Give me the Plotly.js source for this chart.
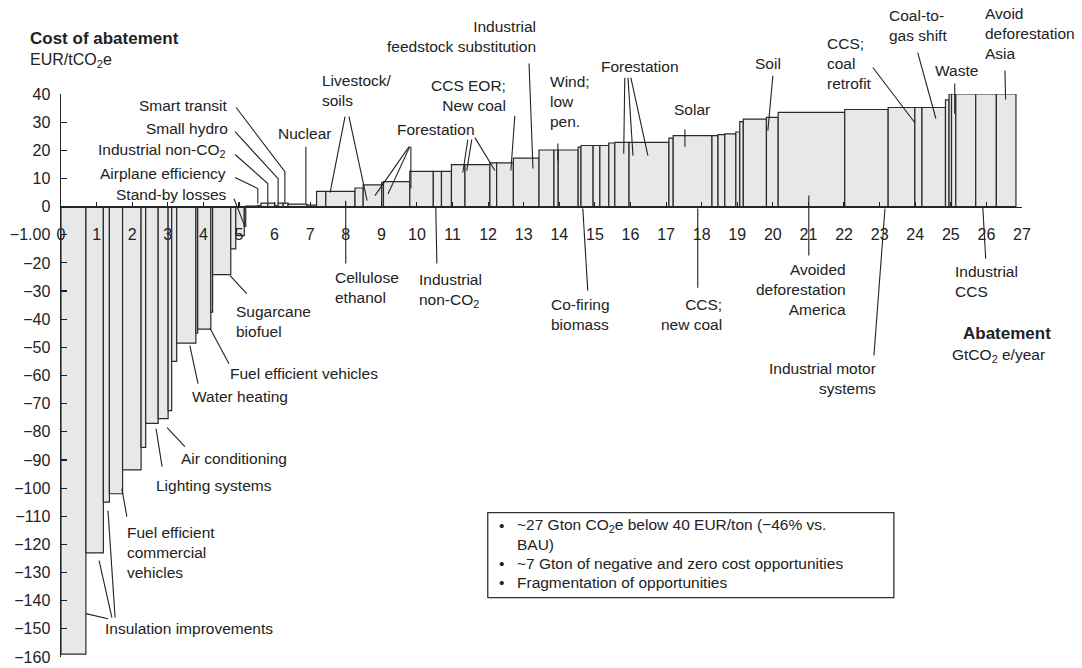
<!DOCTYPE html>
<html>
<head>
<meta charset="utf-8">
<script src="https://cdn.plot.ly/plotly-3.0.1.min.js"></script>
<style>body{margin:0;background:#fff}</style>
</head>
<body>
<div id="chart" style="width:1082px;height:668px"></div>
<script>
// Abatement widths (GtCO2e/year) of each measure, left to right
const widths = [0.70,0.49,0.17,0.37,0.52,0.13,0.35,0.28,0.10,0.14,0.54,0.05,0.37,0.05,0.51,0.14,0.24,0.04,
  0.34,0.09,0.19,0.20,0.09,0.14,0.14,0.53,0.27,
  0.26,0.82,0.23,0.52,0.05,0.74,0.66,0.23,0.28,0.38,0.70,0.19,0.47,0.72,0.42,0.12,0.56,0.08,0.34,0.19,0.25,
  0.17,0.40,1.12,0.12,1.09,0.17,0.19,0.31,0.11,0.10,0.65,0.33,1.87,1.22,0.75,0.20,0.66,0.10,0.07,0.12,0.56,0.58,0.55];
// Cost of abatement (EUR/tCO2e) of each measure
const costs = [-159,-123,-105,-102,-93.5,-85.5,-77,-75.3,-72.5,-55,-48.5,-45,-43.5,-37.5,-24.2,-15,-10.3,-7,
  0.2,0.4,1.2,1.2,0.3,1.2,1.2,0.9,0.5,
  5.4,5.4,6.6,7.7,8.5,8.9,12.5,12.5,12.5,14.9,14.9,15.5,15.5,17.2,20.1,20.1,20.1,21.1,21.7,21.7,21.7,
  22.6,22.8,22.8,24.3,25.2,25.2,25.6,25.8,26.5,30.2,31.1,31.7,33.5,34.5,35.2,35.2,35.2,37.9,40,40,40,40,40];

const xTickVals = [0,1,2,3,4,5,6,7,8,9,10,11,12,13,14,15,16,17,18,19,20,21,22,23,24,25,26,27];
const yTickVals = [40,30,20,10,0,-10,-20,-30,-40,-50,-60,-70,-80,-90,-100,-110,-120,-130,-140,-150,-160];
const yTickText = ['40','30','20','10','0','\u22121.00','\u221220','\u221230','\u221240','\u221250','\u221260','\u221270','\u221280','\u221290','\u2212100','\u2212110','\u2212120','\u2212130','\u2212140','\u2212150','\u2212160'];

const X_RANGE = [0, 27];
const Y_RANGE = [-160, 40];

// Labels: [text, x, y, anchor] in data units (label block centre)
const labels = [
  ['Smart transit', 4.75, 35.9, 'right'],
  ['Small hydro', 4.75, 27.7, 'right'],
  ['Industrial non-CO<sub>2</sub>', 4.69, 19.9, 'right'],
  ['Airplane efficiency', 4.69, 11.7, 'right'],
  ['Stand-by losses', 4.72, 4.3, 'right'],
  ['Nuclear', 6.83, 25.9, 'center'],
  ['Livestock/<br>soils', 7.28, 41.4, 'left'],
  ['Forestation', 10.53, 27.4, 'center'],
  ['CCS EOR;<br>New coal', 12.56, 39.6, 'right'],
  ['Industrial<br>feedstock substitution', 13.40, 60.4, 'right'],
  ['Wind;<br>low<br>pen.', 13.68, 37.3, 'left'],
  ['Co-firing<br>biomass', 13.71, -38.4, 'left'],
  ['Cellulose<br>ethanol', 7.64, -28.6, 'left'],
  ['Industrial<br>non-CO<sub>2</sub>', 10.0, -29.8, 'left'],
  ['Forestation', 16.26, 49.7, 'center'],
  ['Solar', 17.72, 34.5, 'center'],
  ['Soil', 19.86, 50.8, 'center'],
  ['CCS;<br>coal<br>retrofit', 21.46, 50.8, 'left'],
  ['Coal-to-<br>gas shift', 23.20, 64.3, 'left'],
  ['Waste', 25.17, 48.3, 'center'],
  ['Avoid<br>deforestation<br>Asia', 25.90, 61.5, 'left'],
  ['CCS;<br>new coal', 18.62, -38.4, 'right'],
  ['Avoided<br>deforestation<br>America', 22.11, -29.5, 'right'],
  ['Industrial motor<br>systems', 22.95, -60.9, 'right'],
  ['Industrial<br>CCS', 25.06, -26.6, 'left'],
  ['Sugarcane<br>biofuel', 4.86, -40.9, 'left'],
  ['Fuel efficient vehicles', 4.69, -59.3, 'left'],
  ['Water heating', 3.62, -67.5, 'left'],
  ['Air conditioning', 3.31, -89.5, 'left'],
  ['Lighting systems', 2.61, -99.1, 'left'],
  ['Fuel efficient<br>commercial<br>vehicles', 1.80, -122.9, 'left'],
  ['Insulation improvements', 1.18, -149.9, 'left']
];

// Leader lines: polylines in data units
const leaders = [
  [[4.92,35.2],[6.29,12.4],[6.29,1.4]],
  [[4.89,26.6],[6.10,9.9],[6.10,1.1]],
  [[4.89,18.5],[5.81,8.2],[5.81,1.4]],
  [[4.89,10.3],[5.53,6.4],[5.53,1.1]],
  [[4.86,2.8],[5.17,-7.1]],
  [[6.88,21.3],[6.88,1.1]],
  [[7.98,32.0],[7.56,5.0]],
  [[8.09,32.0],[8.60,2.1]],
  [[9.78,21.3],[8.82,3.9]],
  [[9.80,21.3],[9.19,4.6]],
  [[9.83,21.3],[9.83,6.4]],
  [[11.43,23.8],[11.29,12.1]],
  [[11.54,23.8],[11.40,12.8]],
  [[11.63,24.5],[12.19,12.8]],
  [[12.75,32.3],[12.64,12.8]],
  [[13.15,50.8],[13.26,13.5]],
  [[13.96,22.4],[13.96,16.3]],
  [[14.66,-0.7],[14.80,-29.8]],
  [[8.0,2.1],[8.0,-20.2]],
  [[10.53,-0.4],[10.56,-20.2]],
  [[15.84,45.8],[15.81,18.8]],
  [[15.93,45.8],[16.07,18.1]],
  [[16.01,45.8],[16.49,18.1]],
  [[17.53,27.4],[17.53,21.3]],
  [[20.0,46.5],[19.86,27.0]],
  [[22.81,49.4],[23.99,29.8]],
  [[24.07,54.7],[24.58,31.3]],
  [[25.11,43.7],[25.11,33.0]],
  [[26.52,48.3],[26.54,38.0]],
  [[17.89,-0.7],[17.89,-28.8]],
  [[21.01,3.9],[21.01,-17.4]],
  [[23.15,-0.7],[22.84,-52.9]],
  [[25.90,-0.4],[25.98,-18.5]],
  [[4.75,-24.5],[5.22,-30.9]],
  [[4.19,-43.3],[4.72,-55.8]],
  [[3.62,-49.4],[3.85,-62.9]],
  [[2.98,-78.5],[3.48,-85.3]],
  [[2.67,-78.9],[2.84,-92.4]],
  [[1.71,-100.2],[1.85,-110.1]],
  [[0.70,-144.6],[1.32,-146.4]],
  [[1.07,-125.8],[1.43,-146.0]],
  [[1.32,-108.0],[1.52,-146.0]]
];

const noteLines = [
  ['\u2022', '~27 Gton CO<sub>2</sub>e below 40 EUR/ton (\u221246% vs.'],
  ['', 'BAU)'],
  ['\u2022', '~7 Gton of negative and zero cost opportunities'],
  ['\u2022', 'Fragmentation of opportunities']
];

const FONT = '"Liberation Sans", Arial, Helvetica, sans-serif';
const INK = '#222';
const LABEL_SIZE = 15.5;
const px = x => (x - X_RANGE[0]) / (X_RANGE[1] - X_RANGE[0]);
const py = y => (y - Y_RANGE[0]) / (Y_RANGE[1] - Y_RANGE[0]);

// bar centres from cumulative widths
const centers = [];
let acc = 0;
widths.forEach(w => { centers.push(acc + w / 2); acc += w; });

const trace = {
  type: 'bar', x: centers, y: costs, width: widths,
  marker: { color: '#e7e8ea', line: { color: '#2a2a2a', width: 1.2 } },
  hoverinfo: 'skip', cliponaxis: false
};

const annotations = [];
labels.forEach(([t, x, y, a]) => {
  annotations.push({ text: t, x: px(x), y: py(y), xref: 'paper', yref: 'paper',
    xanchor: a, yanchor: 'middle', align: a, showarrow: false,
    font: { family: FONT, size: LABEL_SIZE, color: INK } });
});
annotations.push({ text: '<b>Cost of abatement</b>', x: px(-0.93), y: py(59.7), xref: 'paper', yref: 'paper',
  xanchor: 'left', yanchor: 'middle', showarrow: false, font: { family: FONT, size: 17, color: INK } });
annotations.push({ text: 'EUR/tCO<sub>2</sub>e', x: px(-0.93), y: py(51.9), xref: 'paper', yref: 'paper',
  xanchor: 'left', yanchor: 'middle', showarrow: false, font: { family: FONT, size: 16, color: INK } });
annotations.push({ text: '<b>Abatement</b>', x: px(27.87), y: py(-45.1), xref: 'paper', yref: 'paper',
  xanchor: 'right', yanchor: 'middle', showarrow: false, font: { family: FONT, size: 17, color: INK } });
annotations.push({ text: 'GtCO<sub>2</sub> e/year', x: px(27.70), y: py(-52.9), xref: 'paper', yref: 'paper',
  xanchor: 'right', yanchor: 'middle', showarrow: false, font: { family: FONT, size: LABEL_SIZE, color: INK } });

const noteY = [-113.3, -120.1, -126.8, -133.6];
noteLines.forEach(([b, t], i) => {
  if (b) annotations.push({ text: b, x: px(12.25), y: py(noteY[i]), xref: 'paper', yref: 'paper',
    xanchor: 'left', yanchor: 'middle', showarrow: false, font: { family: FONT, size: LABEL_SIZE, color: INK } });
  annotations.push({ text: t, x: px(12.75), y: py(noteY[i]), xref: 'paper', yref: 'paper',
    xanchor: 'left', yanchor: 'middle', showarrow: false, font: { family: FONT, size: LABEL_SIZE, color: INK } });
});

const shapes = leaders.map(pts => ({
  type: 'path', xref: 'paper', yref: 'paper',
  path: pts.map((p, i) => (i ? 'L' : 'M') + px(p[0]).toFixed(5) + ',' + py(p[1]).toFixed(5)).join(' '),
  line: { color: INK, width: 1.1 }
}));
shapes.push({ type: 'rect', xref: 'paper', yref: 'paper', x0: px(11.99), x1: px(23.40), y0: py(-138.9), y1: py(-108.7),
  line: { color: '#333', width: 1.3 }, fillcolor: '#fff' });

const layout = {
  width: 1082, height: 668,
  margin: { l: 61, r: 60, t: 94, b: 11 },
  paper_bgcolor: '#fff', plot_bgcolor: '#fff',
  showlegend: false,
  font: { family: FONT, size: 15, color: INK },
  xaxis: {
    range: X_RANGE, anchor: 'free', position: py(0), showgrid: false, zeroline: false,
    showline: true, linecolor: INK, linewidth: 1.5,
    ticks: 'inside', ticklen: 5, tickwidth: 1.1, tickcolor: INK,
    tickvals: xTickVals, ticktext: xTickVals.map(String), ticklabelstandoff: 13,
    tickfont: { family: FONT, size: 16, color: INK }, fixedrange: true
  },
  yaxis: {
    range: Y_RANGE, showgrid: false, zeroline: false,
    showline: true, linecolor: INK, linewidth: 1.5,
    ticks: 'inside', ticklen: 6, tickwidth: 1.1, tickcolor: INK,
    tickvals: yTickVals, ticktext: yTickText, ticklabelstandoff: 6,
    tickfont: { family: FONT, size: 16, color: INK }, fixedrange: true
  },
  annotations: annotations,
  shapes: shapes
};

Plotly.newPlot('chart', [trace], layout, { staticPlot: true, displayModeBar: false });
</script>
</body>
</html>
